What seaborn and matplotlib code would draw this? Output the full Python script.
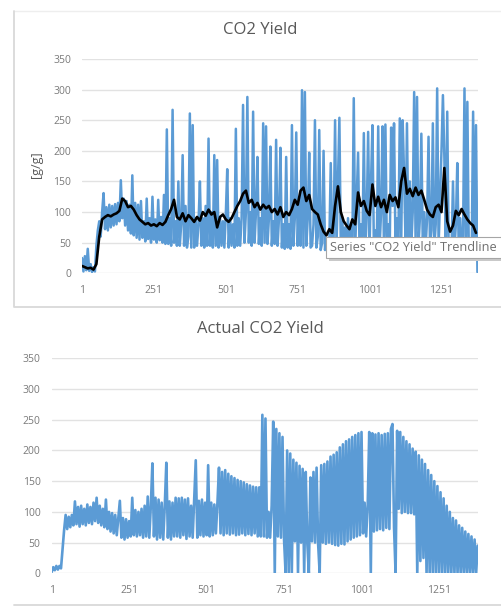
import numpy as np
import pandas as pd
import matplotlib
matplotlib.use("Agg")
import matplotlib.pyplot as plt
import seaborn as sns
from matplotlib.patches import Rectangle
from matplotlib.lines import Line2D

# Yield records are logged every 5th sample, trendline points every 10th
step = 5
trend_step = 10

# CO2 yield per record [g/g]
co2_yield = [
    25, 3, 28, 5, 40, 4, 15, 2, 10, 3, 45, 70, 85, 60, 100, 131, 72, 108, 70, 112,
    75, 110, 78, 113, 80, 115, 85, 152, 90, 122, 78, 118, 70, 112, 65, 160, 62, 115, 58, 112,
    55, 118, 58, 85, 52, 122, 56, 90, 50, 125, 55, 88, 50, 120, 54, 92, 50, 128, 48, 235,
    48, 90, 45, 267, 50, 85, 45, 150, 45, 80, 193, 45, 110, 42, 60, 261, 42, 242, 42, 90,
    45, 80, 150, 45, 90, 42, 110, 45, 220, 45, 100, 42, 193, 45, 185, 42, 90, 45, 85, 42,
    95, 170, 42, 90, 45, 80, 42, 236, 45, 90, 45, 90, 275, 50, 100, 288, 50, 100, 45, 264,
    50, 100, 190, 48, 90, 45, 245, 50, 240, 48, 90, 207, 45, 85, 48, 218, 45, 90, 205, 42,
    80, 40, 190, 42, 80, 40, 242, 45, 90, 230, 45, 120, 45, 299, 42, 296, 45, 90, 197, 42,
    45, 80, 250, 42, 60, 234, 38, 50, 200, 38, 55, 35, 50, 180, 38, 60, 250, 45, 150, 254,
    40, 90, 38, 75, 40, 90, 40, 80, 38, 286, 40, 120, 197, 40, 80, 35, 229, 40, 90, 231,
    45, 150, 242, 40, 70, 42, 240, 45, 100, 240, 40, 243, 45, 80, 40, 238, 110, 245, 45, 90,
    45, 253, 50, 250, 160, 50, 245, 50, 150, 45, 100, 296, 50, 288, 45, 90, 228, 45, 100, 45,
    90, 223, 45, 70, 245, 42, 80, 302, 45, 120, 200, 291, 190, 42, 264, 38, 50, 38, 150, 38,
    80, 180, 40, 90, 40, 60, 302, 35, 280, 35, 50, 28, 264, 25, 242, 2,
]

# Moving-average trendline of the CO2 yield [g/g]
co2_trend = [
    12, 10, 8, 9, 6, 15, 60, 88, 92, 95,
    93, 96, 98, 102, 122, 118, 108, 110, 104, 95,
    88, 84, 80, 82, 78, 80, 77, 82, 79, 84,
    95, 105, 120, 92, 88, 98, 85, 95, 90, 84,
    92, 86, 100, 94, 104, 96, 100, 75, 92, 96,
    88, 84, 90, 100, 110, 118, 130, 135, 115, 120,
    108, 115, 104, 112, 106, 110, 100, 105, 96, 108,
    92, 100, 95, 105, 120, 112, 135, 140, 118, 128,
    105, 100, 96, 80, 68, 62, 72, 66, 110, 142,
    100, 85, 78, 72, 88, 80, 132, 110, 118, 102,
    95, 145, 110, 125, 108, 120, 100, 128, 118, 124,
    108, 150, 172, 130, 138, 126, 140, 128, 135, 120,
    104, 96, 92, 108, 112, 100, 172, 85, 68, 78,
    102, 95, 105, 96, 88, 82, 78, 66,
]

# Actual CO2 yield per record [g/g]
actual_yield = [
    2, 10, 5, 12, 6, 12, 8, 40, 70, 95, 72, 92, 75, 95, 78, 117, 80, 108, 76, 110,
    80, 105, 78, 112, 82, 108, 80, 115, 85, 123, 82, 110, 78, 105, 75, 120, 72, 100, 68, 98,
    65, 95, 62, 90, 118, 58, 90, 55, 88, 58, 85, 60, 123, 62, 103, 60, 100, 62, 105, 58,
    110, 60, 125, 58, 110, 179, 60, 123, 55, 120, 58, 115, 55, 110, 180, 58, 117, 55, 115, 60,
    123, 60, 122, 58, 123, 62, 120, 56, 122, 60, 110, 58, 120, 184, 58, 118, 62, 120, 60, 115,
    62, 176, 60, 115, 62, 112, 65, 115, 172, 65, 165, 62, 168, 65, 162, 63, 158, 65, 155, 62,
    152, 63, 150, 65, 148, 62, 145, 64, 143, 62, 141, 65, 140, 60, 140, 60, 258, 60, 252, 58,
    100, 58, 110, 247, 0, 235, 60, 228, 58, 222, 55, 0, 200, 0, 195, 0, 185, 52, 180, 0,
    175, 50, 170, 0, 165, 50, 0, 156, 52, 165, 50, 172, 48, 0, 176, 50, 178, 48, 182, 50,
    190, 48, 193, 46, 197, 45, 205, 48, 210, 47, 215, 52, 218, 55, 222, 58, 225, 60, 228, 62,
    230, 65, 115, 60, 112, 230, 0, 228, 68, 226, 70, 228, 72, 225, 70, 227, 74, 228, 72, 235,
    243, 75, 0, 232, 105, 230, 98, 222, 100, 215, 98, 210, 98, 203, 96, 198, 0, 192, 20, 185,
    25, 178, 0, 168, 0, 160, 0, 150, 0, 142, 0, 132, 0, 122, 0, 110, 0, 100, 0, 90,
    0, 86, 0, 78, 0, 74, 0, 68, 0, 64, 0, 60, 0, 55, 0, 45,
]

y_ticks = [0, 50, 100, 150, 200, 250, 300, 350]
x_ticks = [1, 251, 501, 751, 1001, 1251]

BLUE = "#5b9bd5"
GRID = "#e2e2e2"
FRAME = "#d9d9d9"
TEXT = "#595959"
TICK = "#7a7a7a"

sns.set_theme(style="whitegrid")
plt.rcParams["font.family"] = ["Open Sans", "DejaVu Sans"]

W, H = 502, 607
fig = plt.figure(figsize=(W / 100, H / 100), dpi=100)
fig.patch.set_facecolor("white")


def px_box(left, top, right, bottom):
    return [left / W, 1 - bottom / H, (right - left) / W, (bottom - top) / H]


ax1 = fig.add_axes(px_box(82, 59, 478, 273.3))
ax2 = fig.add_axes(px_box(51.7, 358.3, 478.3, 573.3))

top = pd.DataFrame({"record": np.arange(len(co2_yield)) * step + 1, "yield": co2_yield})
trend = pd.DataFrame({"record": np.arange(len(co2_trend)) * trend_step + 1, "yield": co2_trend})
bottom = pd.DataFrame({"record": np.arange(len(actual_yield)) * step + 1, "yield": actual_yield})

sns.lineplot(data=top, x="record", y="yield", ax=ax1, color=BLUE, linewidth=1.8)
sns.lineplot(data=trend, x="record", y="yield", ax=ax1, color="black", linewidth=1.9)
sns.lineplot(data=bottom, x="record", y="yield", ax=ax2, color=BLUE, linewidth=1.9)

for ax in (ax1, ax2):
    ax.set_xlim(1, 1378)
    ax.set_ylim(0, 350)
    ax.set_yticks(y_ticks)
    ax.set_xticks(x_ticks)
    ax.set_facecolor("none")
    ax.grid(axis="y", color=GRID, linewidth=1.0)
    ax.grid(axis="x", visible=False)
    ax.set_axisbelow(True)
    for s in ax.spines.values():
        s.set_visible(False)
    ax.tick_params(axis="both", length=0, labelsize=7.5, labelcolor=TICK)
    ax.tick_params(axis="x", pad=8.5)
    ax.tick_params(axis="y", pad=8.0)
    ax.set_xlabel("")
    ax.set_ylabel("")

# Chart frames
fx0, fy_top, fy_bot = 14 / W, 1 - 11 / H, 1 - 307 / H
fig.add_artist(Line2D([fx0, 1.0], [fy_top, fy_top], transform=fig.transFigure,
                      color="#eeeeee", linewidth=1.0, zorder=1))
fig.add_artist(Line2D([fx0, fx0, 1.0], [fy_top, fy_bot, fy_bot], transform=fig.transFigure,
                      color=FRAME, linewidth=1.3, zorder=1))
fig.add_artist(Line2D([fx0, 1.0], [1 - 605 / H, 1 - 605 / H], transform=fig.transFigure,
                      color=FRAME, linewidth=1.3, zorder=1))

# Titles and axis label
fig.text(260 / W, 1 - 30 / H, "CO2 Yield", ha="center", va="center", fontsize=12, color=TEXT)
fig.text(260 / W, 1 - 329 / H, "Actual CO2 Yield", ha="center", va="center", fontsize=12, color=TEXT)
fig.text(36 / W, 1 - 165 / H, "[g/g]", ha="center", va="center", rotation=90, fontsize=9, color=TEXT)

# Hover label of the trendline series
fig.add_artist(Rectangle((329 / W, 1 - 261 / H), 200 / W, 22 / H, transform=fig.transFigure,
                         facecolor="#c9c9c9", edgecolor="none", zorder=5))
fig.add_artist(Rectangle((326 / W, 1 - 258 / H), 200 / W, 21 / H, transform=fig.transFigure,
                         facecolor="white", edgecolor="#a6a6a6", linewidth=0.8, zorder=6))
fig.text(330 / W, 1 - 247.5 / H, 'Series "CO2 Yield" Trendline', ha="left", va="center",
         fontsize=9.2, color="#707070", zorder=7)

fig.savefig("out.png", dpi=100, facecolor="white")
